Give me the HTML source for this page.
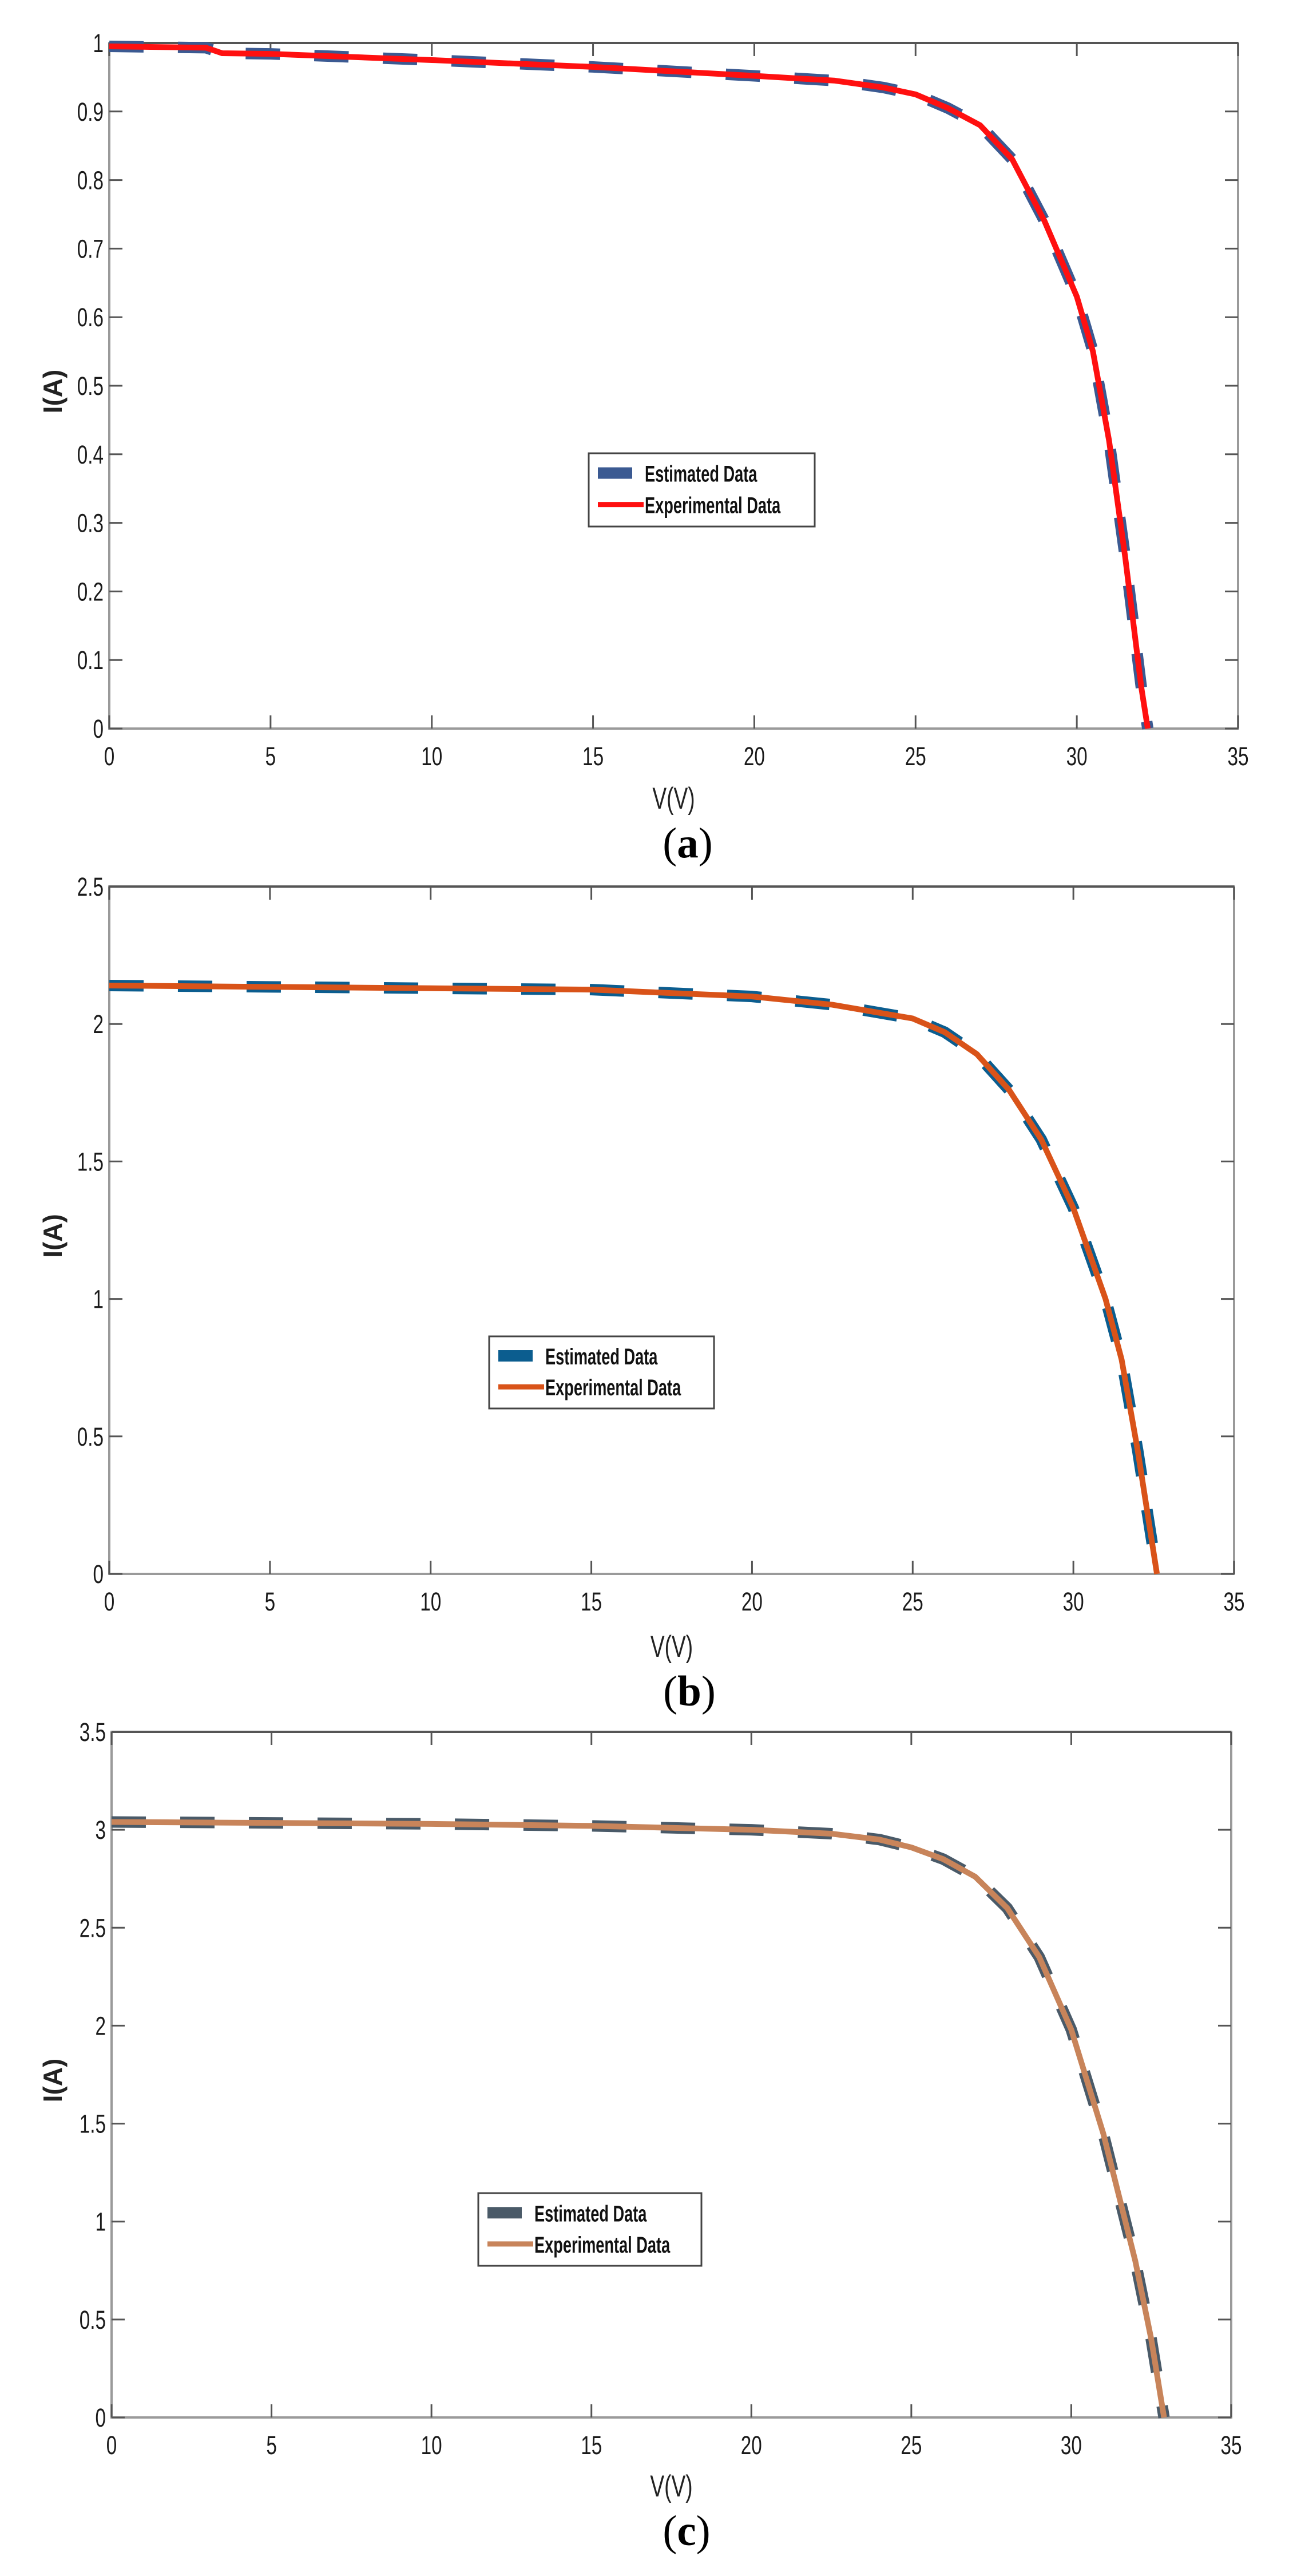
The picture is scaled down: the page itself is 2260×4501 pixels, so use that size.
<!DOCTYPE html>
<html><head><meta charset="utf-8">
<style>
html,body{margin:0;padding:0;background:#fff;}
svg{display:block;}
text{font-family:"Liberation Sans",sans-serif;}
</style></head>
<body>
<svg id="fig" width="2260" height="4501" viewBox="0 0 2260 4501" xmlns="http://www.w3.org/2000/svg"></svg>
<script>
// ---- data ----
const xTicks = [0,5,10,15,20,25,30,35];
const yTicksA = [0,0.1,0.2,0.3,0.4,0.5,0.6,0.7,0.8,0.9,1];
const yTickLabelsA = ["0","0.1","0.2","0.3","0.4","0.5","0.6","0.7","0.8","0.9","1"];
const yTicksB = [0,0.5,1,1.5,2,2.5];
const yTickLabelsB = ["0","0.5","1","1.5","2","2.5"];
const yTicksC = [0,0.5,1,1.5,2,2.5,3,3.5];
const yTickLabelsC = ["0","0.5","1","1.5","2","2.5","3","3.5"];

const voltA = [0,3,3.5,5,10,15,20,22.5,24,25,26,27,28,29,30,30.5,31,31.5,32,32.2];
const currA = [0.995,0.993,0.985,0.984,0.975,0.965,0.952,0.945,0.935,0.925,0.905,0.88,0.83,0.74,0.63,0.55,0.42,0.25,0.06,0];
const voltB = [0,5,10,15,20,22.5,25,26,27,28,29,30,31,31.5,32,32.6];
const currB = [2.14,2.135,2.13,2.125,2.10,2.07,2.02,1.97,1.89,1.76,1.58,1.33,1.0,0.78,0.45,0];
const voltC = [0,5,10,15,20,22.5,24,25,26,27,28,29,30,31,32,32.5,32.9];
const currC = [3.04,3.035,3.03,3.02,3.0,2.98,2.95,2.91,2.85,2.76,2.6,2.35,1.98,1.45,0.8,0.4,0];

const NS="http://www.w3.org/2000/svg";
const svg=document.getElementById('fig');
function el(tag,attrs,parent){const e=document.createElementNS(NS,tag);for(const k in attrs)e.setAttribute(k,attrs[k]);(parent||svg).appendChild(e);return e;}

const panels=[
 {id:'a',L:191,R:2164,T:75,B:1273,ymax:1,yt:yTicksA,yl:yTickLabelsA,vx:voltA,vy:currA,line:'#ff1010',dash:'#3b5a92',lg:[1029,792,1424,920],xl:1413,cap:1498,cx:1202},
 {id:'b',L:191,R:2157,T:1549,B:2750,ymax:2.5,yt:yTicksB,yl:yTickLabelsB,vx:voltB,vy:currB,line:'#d95319',dash:'#0b5d8f',lg:[855,2335,1248,2461],xl:2895,cap:2980,cx:1205},
 {id:'c',L:195,R:2152,T:3026,B:4224,ymax:3.5,yt:yTicksC,yl:yTickLabelsC,vx:voltC,vy:currC,line:'#c8845a',dash:'#4a5a68',lg:[836,3832,1226,3959],xl:4362,cap:4447,cx:1200}
];

panels.forEach(p=>{
  const g=el('g',{});
  
  
  const sx=v=>p.L+(v/35)*(p.R-p.L);
  const sy=v=>p.B-(v/p.ymax)*(p.B-p.T);
  const box=el('rect',{x:p.L,y:p.T,width:p.R-p.L,height:p.B-p.T,fill:'none',stroke:'#9a9a9a','stroke-width':4},g);
  
  
  el('line',{x1:p.L,y1:p.T,x2:p.R,y2:p.T,stroke:'#555','stroke-width':4},g);
  xTicks.forEach(v=>{
    el('line',{x1:sx(v),y1:p.B,x2:sx(v),y2:p.B-23,stroke:'#555','stroke-width':3},g);
    el('line',{x1:sx(v),y1:p.T,x2:sx(v),y2:p.T+23,stroke:'#555','stroke-width':3},g);
    const t=el('text',{x:0,y:0,'font-size':45,'text-anchor':'middle',fill:'#1a1a1a',transform:`translate(${sx(v)},${p.B+64}) scale(0.74,1)`},g);
    t.textContent=v;
    
    
  });
  p.yt.forEach((v,i)=>{
    el('line',{x1:p.L,y1:sy(v),x2:p.L+23,y2:sy(v),stroke:'#555','stroke-width':3},g);
    el('line',{x1:p.R,y1:sy(v),x2:p.R-23,y2:sy(v),stroke:'#555','stroke-width':3},g);
    const t=el('text',{x:0,y:0,'font-size':45,'text-anchor':'end',fill:'#1a1a1a',transform:`translate(${p.L-10},${sy(v)+16}) scale(0.74,1)`},g);
    t.textContent=p.yl[i];
    
    
  });
  const xt=el('text',{x:0,y:0,'font-size':53,'text-anchor':'middle',fill:'#222',transform:`translate(${(p.L+p.R)/2},${p.xl}) scale(0.7,1)`},g);
  xt.textContent='V(V)';
  
  
  const yt=el('text',{x:0,y:0,'font-size':46,'font-weight':'bold','text-anchor':'middle',fill:'#222',transform:`translate(${108},${(p.T+p.B)/2+10}) rotate(-90)`},g);
  yt.textContent='I(A)';
  
  
  const pts=p.vx.map((v,i)=>sx(v)+','+sy(p.vy[i])).join(' ');
  const est=el('polyline',{points:pts,fill:'none',stroke:p.dash,'stroke-width':20,'stroke-dasharray':'60 60','stroke-linejoin':'round'},g);
  
  
  const exp=el('polyline',{points:pts,fill:'none',stroke:p.line,'stroke-width':10,'stroke-linejoin':'round'},g);
  
  
  const [lx1,ly1,lx2,ly2]=p.lg;
  const lg=el('g',{},g);
  
  
  el('rect',{x:lx1,y:ly1,width:lx2-lx1,height:ly2-ly1,fill:'#fff',stroke:'#444','stroke-width':3},lg);
  const h=ly2-ly1;
  el('rect',{x:lx1+16,y:ly1+h*0.27-10,width:60,height:20,fill:p.dash},lg);
  el('line',{x1:lx1+16,y1:ly1+h*0.7,x2:lx1+96,y2:ly1+h*0.7,stroke:p.line,'stroke-width':9},lg);
  const e1=el('text',{x:0,y:0,'font-size':40,'font-weight':'bold',fill:'#111',transform:`translate(${lx1+98},${ly1+h*0.27+15}) scale(0.68,1)`},lg);
  e1.textContent='Estimated Data';
  
  
  const e2=el('text',{x:0,y:0,'font-size':40,'font-weight':'bold',fill:'#111',transform:`translate(${lx1+98},${ly1+h*0.7+15}) scale(0.68,1)`},lg);
  e2.textContent='Experimental Data';
  
  
  const c=el('text',{x:p.cx,y:p.cap,'font-size':75,'text-anchor':'middle',fill:'#000',style:'font-family:"Liberation Serif",serif'},g);
  c.innerHTML='(<tspan font-weight="bold">'+p.id+'</tspan>)';
  
  
});
</script>
</body></html>
